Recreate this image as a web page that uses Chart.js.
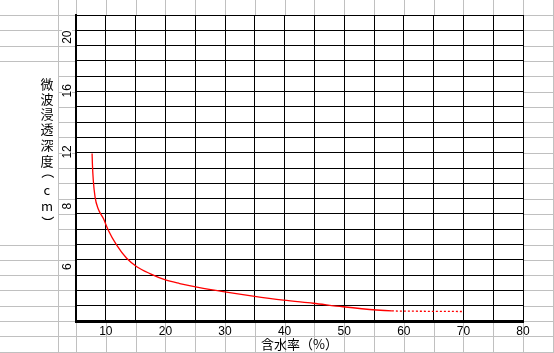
<!DOCTYPE html>
<html>
<head>
    <title>含水率と微波浸透深度</title>
    <script src="https://cdn.jsdelivr.net/npm/chart.js"></script>
    <style>
        body {
            margin: 0;
            background: #ffffff;
        }
        #depth-chart {
            display: block;
        }
    </style>
</head>
<body>
    <canvas id="depth-chart" width="554" height="353"></canvas>

    <script>
        // values (x = 含水率 %, y = depth in grid units)
        const moisture = [7.7, 7.75, 7.9, 8.2, 8.7, 9.6, 10.4, 11.8, 13.5, 15.2, 17.4, 19.9, 22.4, 25.5, 29.7, 34.7, 39.8, 44.8, 49.8, 55.4, 58, 62, 66, 70];
        const depth = [10.95, 10.3, 9.2, 8.1, 7.35, 6.7, 5.95, 4.97, 4.1, 3.55, 3.1, 2.7, 2.45, 2.2, 1.92, 1.63, 1.37, 1.16, 0.93, 0.72, 0.66, 0.64, 0.63, 0.62];

        // y labels as printed on the original axis, and where they sit
        const yTickValues = [18.55, 15.05, 11.05, 7.5, 3.55];
        const yTickLabels = ['20', '16', '12', '8', '6'];

        const xTitle = '含水率（%）';
        const yTitle = '微波浸透深度（cm）';

        const digitFont = '12px "Liberation Sans", Arial, sans-serif';
        const cjkFont = '13px "Noto Sans CJK JP", sans-serif';

        // spreadsheet cells behind the chart
        const sheetGrid = {
            id: 'sheetGrid',
            beforeDraw(chart) {
                const ctx = chart.ctx;
                const xs = chart.scales.x;
                const ys = chart.scales.y;
                const area = chart.chartArea;
                ctx.save();
                ctx.fillStyle = '#ffffff';
                ctx.fillRect(0, 0, chart.width, chart.height);
                ctx.strokeStyle = '#c0c0c0';
                ctx.lineWidth = 1;
                ctx.beginPath();
                const cols = [58];
                for (let v = 5; v <= 85; v += 5) cols.push(xs.getPixelForValue(v));
                cols.forEach(x => {
                    const px = Math.round(x) + 0.5;
                    ctx.moveTo(px, 0);
                    ctx.lineTo(px, chart.height);
                });
                for (let v = -2; v <= 20; v++) {
                    const py = Math.round(ys.getPixelForValue(v)) + 0.5;
                    ctx.moveTo(0, py);
                    ctx.lineTo(chart.width, py);
                }
                ctx.stroke();
                // merged cell holding the vertical title
                ctx.fillRect(0, 62, 58, 181);
                ctx.fillRect(area.left, area.top, area.right - area.left, area.bottom - area.top);
                ctx.restore();
            },
            afterDraw(chart) {
                const ctx = chart.ctx;
                const ys = chart.scales.y;
                ctx.save();
                ctx.fillStyle = '#000000';
                ctx.font = digitFont;
                ctx.textAlign = 'center';
                ctx.textBaseline = 'middle';
                yTickValues.forEach((v, i) => {
                    const py = ys.getPixelForValue(v);
                    const w = ctx.measureText(yTickLabels[i]).width;
                    ctx.save();
                    ctx.translate(67, py);
                    ctx.rotate(-Math.PI / 2);
                    ctx.fillStyle = '#ffffff';
                    ctx.fillRect(-w / 2 - 1, -5, w + 2, 10);
                    ctx.fillStyle = '#000000';
                    ctx.fillText(yTickLabels[i], 0, 1);
                    ctx.restore();
                });
                // vertical writing: each glyph centred on its slot, brackets turned a quarter turn
                ctx.font = cjkFont;
                ctx.textAlign = 'left';
                ctx.textBaseline = 'alphabetic';
                Array.from(yTitle).forEach((ch, i) => {
                    const m = ctx.measureText(ch);
                    const cx = (m.actualBoundingBoxRight - m.actualBoundingBoxLeft) / 2;
                    const cy = (m.actualBoundingBoxDescent - m.actualBoundingBoxAscent) / 2;
                    let py = 84 + i * 15.4;
                    if (ch === '）') py -= 4.5;
                    ctx.save();
                    ctx.translate(47, py);
                    if (ch === '（' || ch === '）') ctx.rotate(Math.PI / 2);
                    ctx.fillText(ch, -cx, -cy);
                    ctx.restore();
                });
                ctx.restore();
            }
        };

        const ctx = document.getElementById('depth-chart').getContext('2d');
        const depthChart = new Chart(ctx, {
            type: 'line',
            data: {
                datasets: [{
                    data: moisture.map((m, i) => ({ x: m, y: depth[i] })),
                    borderColor: '#ff0000',
                    borderWidth: 1.3,
                    pointRadius: 0,
                    cubicInterpolationMode: 'monotone',
                    fill: false,
                    segment: {
                        borderDash: c => c.p0.parsed.x >= 58 ? [2, 2] : undefined
                    }
                }]
            },
            options: {
                responsive: false,
                animation: false,
                layout: {
                    padding: { top: 15, right: 31, left: 0, bottom: 0 }
                },
                plugins: {
                    legend: { display: false },
                    tooltip: { enabled: false }
                },
                scales: {
                    x: {
                        type: 'linear',
                        min: 5,
                        max: 80,
                        afterFit: s => { s.height = 32; },
                        grid: { color: '#000000', lineWidth: 1, drawTicks: false },
                        border: { color: '#000000', width: 3 },
                        ticks: {
                            stepSize: 5,
                            padding: 3,
                            autoSkip: false,
                            maxRotation: 0,
                            color: '#000000',
                            font: { family: '"Liberation Sans", Arial, sans-serif', size: 12 },
                            callback: v => v % 10 === 0 ? v : ''
                        },
                        title: {
                            display: true,
                            text: xTitle,
                            color: '#000000',
                            font: { family: '"Noto Sans CJK JP", sans-serif', size: 13 },
                            padding: { top: 0, bottom: 1 }
                        }
                    },
                    y: {
                        min: 0,
                        max: 20,
                        afterFit: s => { s.width = 76; },
                        grid: { color: '#000000', lineWidth: 1, drawTicks: false },
                        border: { color: '#000000', width: 2 },
                        ticks: { stepSize: 1, display: false }
                    }
                }
            },
            plugins: [sheetGrid]
        });
    </script>
</body>
</html>
